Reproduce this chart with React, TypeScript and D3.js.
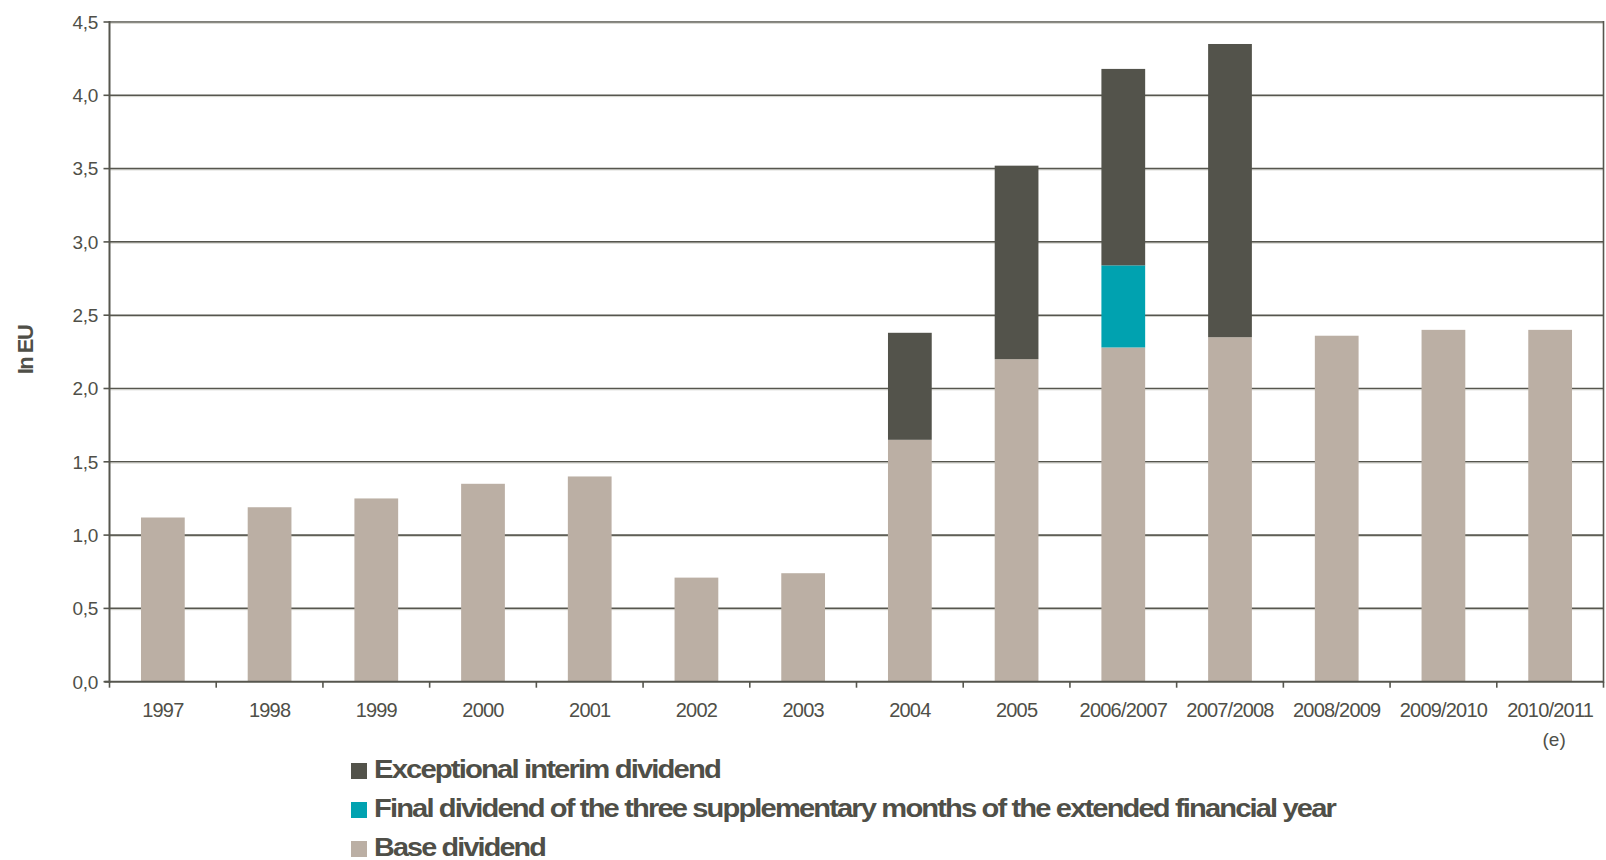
import React from "react";
import * as d3 from "d3";

const categories = ["1997","1998","1999","2000","2001","2002","2003","2004","2005","2006/2007","2007/2008","2008/2009","2009/2010","2010/2011"];
const baseDividend = [1.12,1.19,1.25,1.35,1.40,0.71,0.74,1.65,2.20,2.28,2.35,2.36,2.40,2.40];
const finalDividend = [0,0,0,0,0,0,0,0,0,0.56,0,0,0,0];
const exceptionalDividend = [0,0,0,0,0,0,0,0.73,1.32,1.34,2.00,0,0,0];
const yTicks = [0,0.5,1,1.5,2,2.5,3,3.5,4,4.5];
const legendItems = [
  { key: "exceptional", label: "Exceptional interim dividend", len: 346 },
  { key: "final", label: "Final dividend of the three supplementary months of the extended financial year", len: 961 },
  { key: "base", label: "Base dividend", len: 171 },
];

const COLORS: Record<string, string> = { base: "#bbafa4", final: "#00a2b0", exceptional: "#53534b" };
const TEXT = "#4f4f48";
const GRID = "#56564e";

export default function App() {
  const W = 1606, H = 860;
  const left = 109.5, right = 1603.5, top = 22, bottom = 681.7;
  const x = d3.scaleBand<string>().domain(categories).range([left, right]).padding(0);
  const y = d3.scaleLinear().domain([0, 4.5]).range([bottom, top]);
  const rows = categories.map((c, i) => ({ cat: c, base: baseDividend[i], final: finalDividend[i], exceptional: exceptionalDividend[i] }));
  const stack = d3.stack<any>().keys(["base", "final", "exceptional"]);
  const series = stack(rows);
  const bw = x.bandwidth() * 0.41;
  const fmt = (v: number) => v.toFixed(1).replace(".", ",");
  const font = "'Liberation Sans', Arial, Helvetica, sans-serif";

  return (
    <svg width={W} height={H} style={{ position: "absolute", left: 0, top: 0, background: "#fff" }} fontFamily={font}>
      {yTicks.filter(t => t > 0).map(t => (
        <g key={"g" + t}>
          <line x1={left} x2={right} y1={y(t)} y2={y(t)} stroke={GRID} strokeWidth={1.6} />
          <line x1={left} x2={right} y1={y(t) + 1.3} y2={y(t) + 1.3} stroke="#c8c8c0" strokeWidth={0.8} />
        </g>
      ))}
      {series.map(s => (
        <g key={s.key} fill={COLORS[s.key]}>
          {s.map((d, i) => {
            const h = y(d[0]) - y(d[1]);
            if (h <= 0) return null;
            return <rect key={i} x={(x(categories[i]) as number) + (x.bandwidth() - bw) / 2} y={y(d[1])} width={bw} height={h} />;
          })}
        </g>
      ))}
      <line x1={left} x2={left} y1={top - 1} y2={bottom + 1} stroke={GRID} strokeWidth={2} />
      <line x1={right} x2={right} y1={top - 1} y2={bottom + 1} stroke={GRID} strokeWidth={1.6} />
      <line x1={left - 5} x2={right} y1={bottom} y2={bottom} stroke={GRID} strokeWidth={2} />
      {yTicks.map(t => (
        <g key={"t" + t}>
          <line x1={left - 6} x2={left} y1={y(t)} y2={y(t)} stroke={GRID} strokeWidth={1.6} />
          <text x={98} y={y(t)} dy="0.36em" textAnchor="end" fontSize={19} fill={TEXT} letterSpacing={-0.3}>{fmt(t)}</text>
        </g>
      ))}
      {categories.map((c, i) => (
        <line key={"xt" + i} x1={x(c) as number} x2={x(c) as number} y1={bottom} y2={bottom + 6} stroke={GRID} strokeWidth={1.6} />
      ))}
      <line x1={right} x2={right} y1={bottom} y2={bottom + 6} stroke={GRID} strokeWidth={1.6} />
      {categories.map(c => (
        <text key={"xl" + c} x={(x(c) as number) + x.bandwidth() / 2} y={717} textAnchor="middle" fontSize={20} fill={TEXT} letterSpacing={-0.8}>{c}</text>
      ))}
      <text x={(x("2010/2011") as number) + x.bandwidth() / 2 + 4} y={746} textAnchor="middle" fontSize={19} fill={TEXT}>(e)</text>
      <text transform="translate(33,350) rotate(-90)" textAnchor="middle" fontSize={22} fontWeight="bold" fill={TEXT} letterSpacing={-1.5}>In EU</text>
      {legendItems.map((it, i) => {
        const yy = 763 + i * 39;
        return (
          <g key={it.key}>
            <rect x={351} y={yy} width={16} height={16} fill={COLORS[it.key]} />
            <text x={374} y={yy + 15} fontSize={25} fontWeight="bold" fill={TEXT} letterSpacing={-1.6} textLength={it.len} lengthAdjust="spacingAndGlyphs">{it.label}</text>
          </g>
        );
      })}
    </svg>
  );
}
